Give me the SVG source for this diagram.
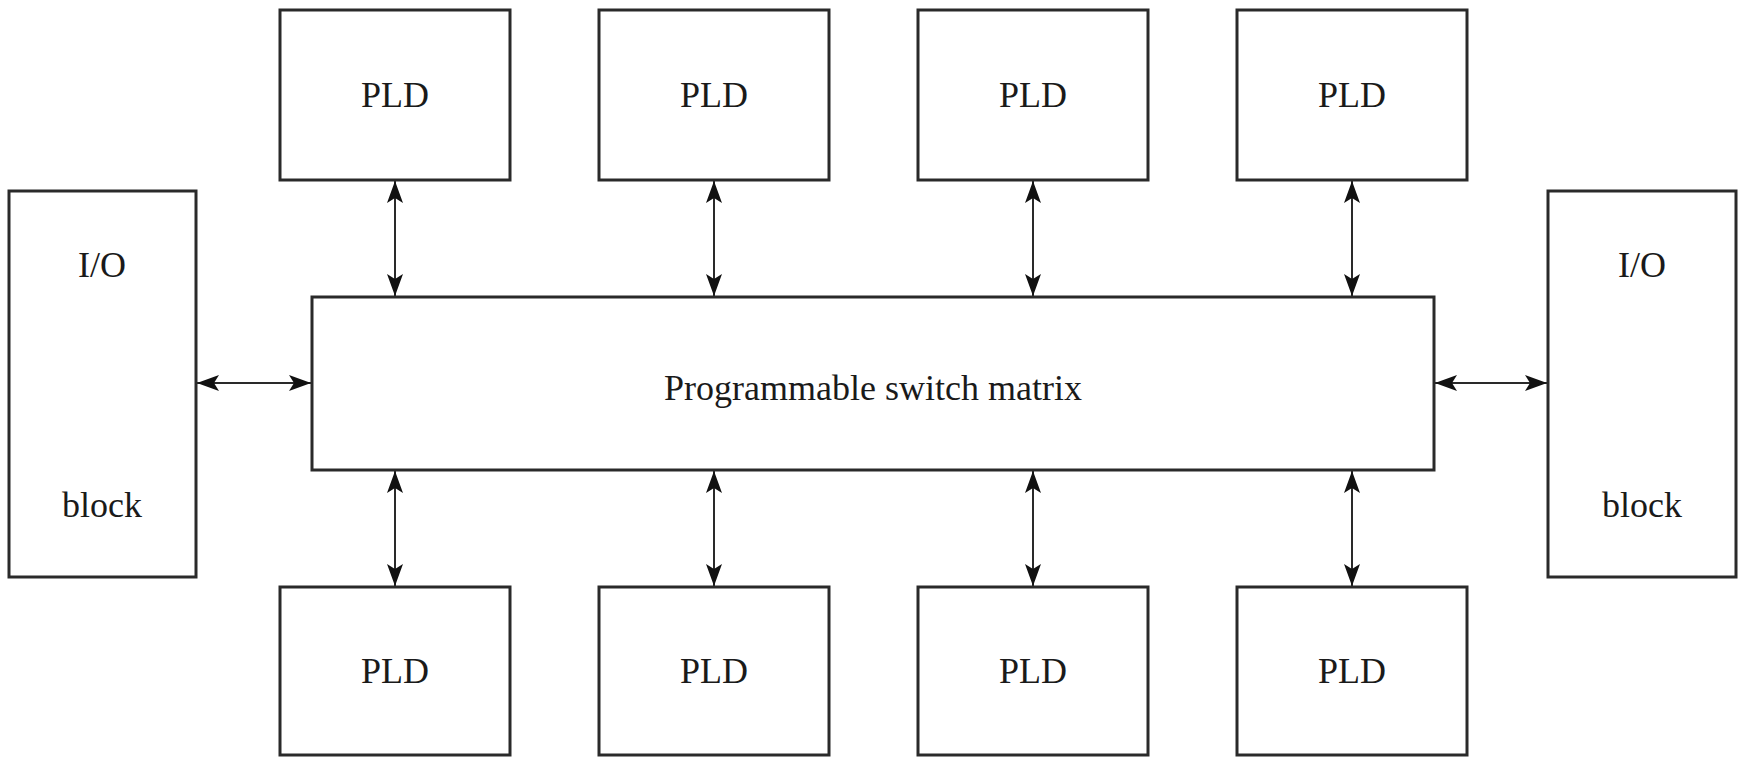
<svg xmlns="http://www.w3.org/2000/svg" width="1746" height="757" viewBox="0 0 1746 757">
<style>
.box{fill:#fff;stroke:#2a2a2a;stroke-width:3}
.lbl{font-family:'Liberation Serif',serif;font-size:36px;fill:#1a1a1a;text-anchor:middle}
.conn{stroke:#2a2a2a;stroke-width:2;fill:none;marker-start:url(#ah);marker-end:url(#ah)}
</style>
<defs>
<marker id="ah" viewBox="-22 -9 23 18" markerWidth="23" markerHeight="18" refX="0" refY="0" markerUnits="userSpaceOnUse" orient="auto-start-reverse">
<path d="M0,0 L-22,-8 L-17,0 L-22,8 Z" fill="#111"/>
</marker>
</defs>
<rect width="1746" height="757" fill="#fff"/>
<g id="connectors">
<line class="conn" x1="395" y1="181" x2="395" y2="296"/>
<line class="conn" x1="714" y1="181" x2="714" y2="296"/>
<line class="conn" x1="1033" y1="181" x2="1033" y2="296"/>
<line class="conn" x1="1352" y1="181" x2="1352" y2="296"/>
<line class="conn" x1="395" y1="471" x2="395" y2="586"/>
<line class="conn" x1="714" y1="471" x2="714" y2="586"/>
<line class="conn" x1="1033" y1="471" x2="1033" y2="586"/>
<line class="conn" x1="1352" y1="471" x2="1352" y2="586"/>
<line class="conn" x1="197" y1="383" x2="311" y2="383"/>
<line class="conn" x1="1435" y1="383" x2="1547" y2="383"/>
</g>
<g id="pld-top-1"><rect class="box" x="280" y="10" width="230" height="170"/><text class="lbl" x="395" y="107">PLD</text></g>
<g id="pld-top-2"><rect class="box" x="599" y="10" width="230" height="170"/><text class="lbl" x="714" y="107">PLD</text></g>
<g id="pld-top-3"><rect class="box" x="918" y="10" width="230" height="170"/><text class="lbl" x="1033" y="107">PLD</text></g>
<g id="pld-top-4"><rect class="box" x="1237" y="10" width="230" height="170"/><text class="lbl" x="1352" y="107">PLD</text></g>
<g id="io-left"><rect class="box" x="9" y="191" width="187" height="386"/><text class="lbl" x="102" y="277">I/O</text><text class="lbl" x="102" y="517">block</text></g>
<g id="io-right"><rect class="box" x="1548" y="191" width="188" height="386"/><text class="lbl" x="1642" y="277">I/O</text><text class="lbl" x="1642" y="517">block</text></g>
<g id="switch-matrix"><rect class="box" x="312" y="297" width="1122" height="173"/><text class="lbl" x="873" y="400">Programmable switch matrix</text></g>
<g id="pld-bottom-1"><rect class="box" x="280" y="587" width="230" height="168"/><text class="lbl" x="395" y="683">PLD</text></g>
<g id="pld-bottom-2"><rect class="box" x="599" y="587" width="230" height="168"/><text class="lbl" x="714" y="683">PLD</text></g>
<g id="pld-bottom-3"><rect class="box" x="918" y="587" width="230" height="168"/><text class="lbl" x="1033" y="683">PLD</text></g>
<g id="pld-bottom-4"><rect class="box" x="1237" y="587" width="230" height="168"/><text class="lbl" x="1352" y="683">PLD</text></g>
</svg>
